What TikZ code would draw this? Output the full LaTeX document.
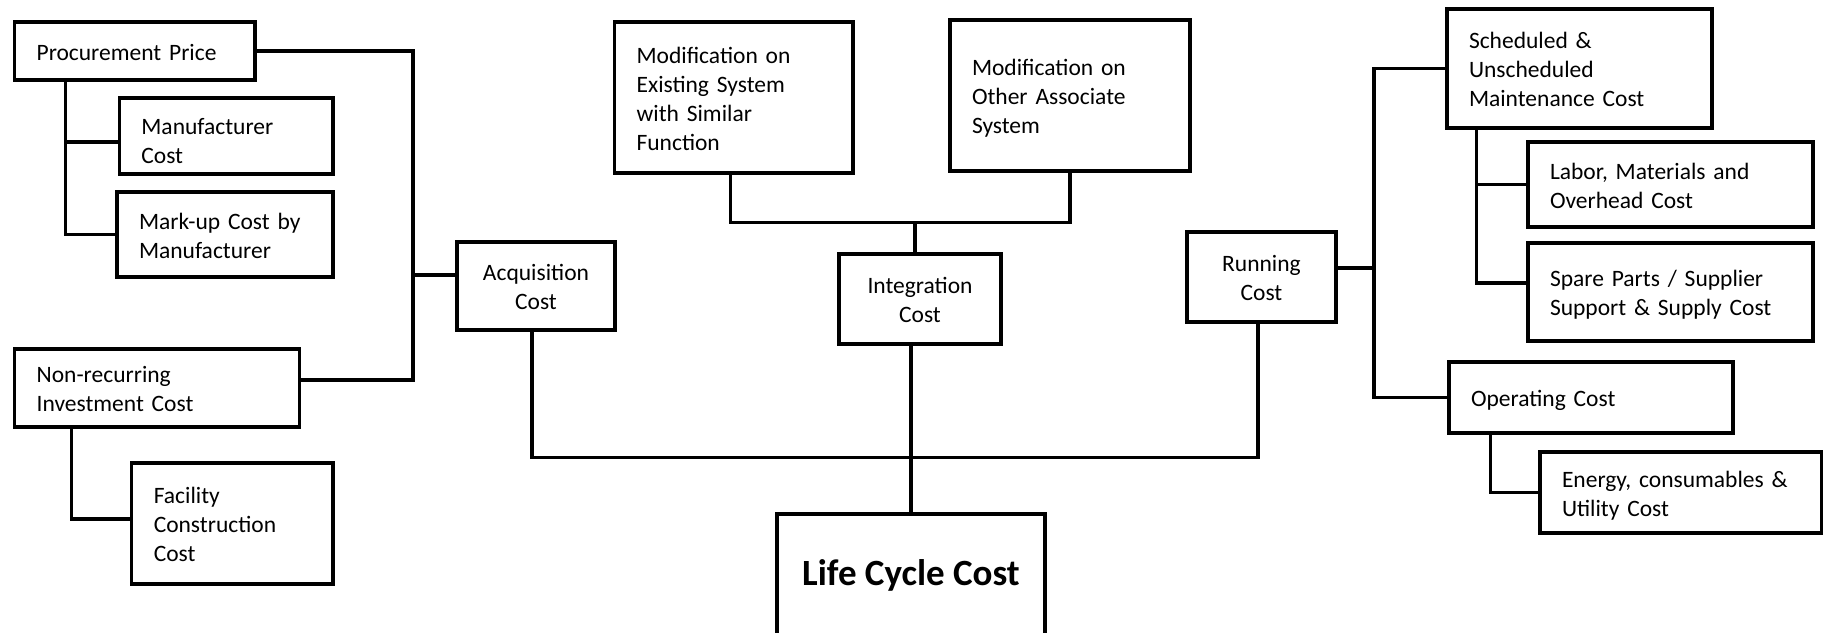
\documentclass[tikz,border=0pt]{standalone}
\usepackage{fontspec}
\setmainfont{Carlito}
\usetikzlibrary{calc}

\newcommand{\lnstrut}{\rule[-5pt]{0pt}{28.5pt}}
\newcommand{\tallstrut}{\rule[-5pt]{0pt}{35.5pt}}
\newcommand{\rootstrut}{\rule[-10pt]{0pt}{36pt}}

\begin{document}
\begin{tikzpicture}[x=1pt,y=-1pt,
  costbox/.style={draw, line width=3.3pt, inner xsep=22pt, inner ysep=0pt,
    align=left, font=\fontsize{23.5}{29}\selectfont,
    execute at begin node=\lnstrut, execute at end node=\lnstrut},
  midbox/.style={costbox, align=center},
  link/.style={line width=3.3pt, line cap=rect, line join=miter}]

\useasboundingbox (0,0) rectangle (1823,632);
\fill[white] (0,0) rectangle (1823,632);

% acquisition branch
\node[costbox, text width=196.4pt, minimum height=58pt] (pp) at (134.8,51) {Procurement Price};
\node[costbox, text width=169.6pt, minimum height=76pt,
  execute at begin node=\tallstrut] (mc) at (226.2,136) {Manufacturer\\Cost};
\node[costbox, text width=172pt, minimum height=85pt] (mu) at (225,234.5) {Mark-up Cost by\\Manufacturer};
\node[costbox, text width=240.7pt, minimum height=78pt] (nr) at (157,388) {Non-recurring\\Investment Cost};
\node[costbox, text width=157.3pt, minimum height=121pt] (fc) at (232.4,523.5) {Facility\\Construction\\Cost};
\node[midbox, text width=114pt, minimum height=88pt] (acq) at (536,286) {Acquisition\\Cost};

% integration branch
\node[costbox, text width=194.4pt, minimum height=151pt] (m1) at (733.8,97.5) {Modification on\\Existing System\\with Similar\\Function};
\node[costbox, text width=196pt, minimum height=151pt] (m2) at (1070,95.5) {Modification on\\Other Associate\\System};
\node[midbox, text width=118pt, minimum height=90pt] (int) at (920,299) {Integration\\Cost};

% root
\node[draw, line width=3.3pt, minimum width=268pt, minimum height=126pt,
  font=\fontsize{37}{44}\bfseries\selectfont,
  execute at begin node=\rootstrut] (lcc) at (911,577) {Life Cycle Cost};

% running branch
\node[midbox, text width=105pt, minimum height=90pt] (run) at (1261.5,277) {Running\\Cost};
\node[costbox, text width=221pt, minimum height=119pt] (sm) at (1579.5,68.5) {Scheduled \&\\Unscheduled\\Maintenance Cost};
\node[costbox, text width=241pt, minimum height=85pt] (lab) at (1670.5,184.5) {Labor, Materials and\\Overhead Cost};
\node[costbox, text width=241pt, minimum height=98pt] (sp) at (1670.5,292) {Spare Parts / Supplier\\Support \& Supply Cost};
\node[costbox, text width=240pt, minimum height=71pt] (op) at (1591,397.5) {Operating Cost};
\node[costbox, text width=238pt, minimum height=81pt] (en) at (1681,492.5) {Energy, consumables \&\\Utility Cost};

% bus lines
\coordinate (busL) at (413,0);
\coordinate (busR) at (1374,0);
\coordinate (busM) at (0,457.5);
\coordinate (busT) at (0,222.5);

% taps on the boxes
\coordinate (ppdrop) at ([xshift=52.4pt]pp.south west);
\coordinate (mcin)   at ([yshift=-6pt]mc.west);
\coordinate (nrin)   at ([yshift=8pt]nr.east);
\coordinate (acqin)  at ([yshift=11pt]acq.west);
\coordinate (nrdrop) at ([xshift=58.4pt]nr.south west);
\coordinate (acqdrop) at ([xshift=-4pt]acq.south);
\coordinate (rundrop) at ([xshift=-3.5pt]run.south);
\coordinate (m1drop) at ([xshift=-3.3pt]m1.south);
\coordinate (intin)  at ([xshift=-5pt]int.north);
\coordinate (runout) at ([yshift=9pt]run.east);
\coordinate (smdrop) at ([xshift=31pt]sm.south west);
\coordinate (spin)   at ([yshift=9pt]sp.west);
\coordinate (opdrop) at ([xshift=43pt]op.south west);
\coordinate (fcin)   at ([yshift=4.5pt]fc.west);

% left side
\draw[link] (ppdrop) |- (mu.west);
\draw[link] (mcin) -- (mcin -| ppdrop);
\draw[link] (pp.east) -| (busL |- nrin) -- (nrin);
\draw[link] (acqin) -- (acqin -| busL);
\draw[link] (nrdrop) |- (fcin);

% centre
\draw[link] (acqdrop) |- (busM -| rundrop) -- (rundrop);
\draw[link] (lcc.north) -- (lcc.north |- int.south);
\draw[link] (m1drop) |- (busT -| m2.south) -- (m2.south);
\draw[link] (intin) -- (intin |- busT);

% right side
\draw[link] (runout) -- (runout -| busR);
\draw[link] (sm.west) -| (busR |- op.west) -- (op.west);
\draw[link] (spin) -| (smdrop);
\draw[link] (lab.west) -- (lab.west -| smdrop);
\draw[link] (opdrop) |- (en.west);

\end{tikzpicture}
\end{document}
